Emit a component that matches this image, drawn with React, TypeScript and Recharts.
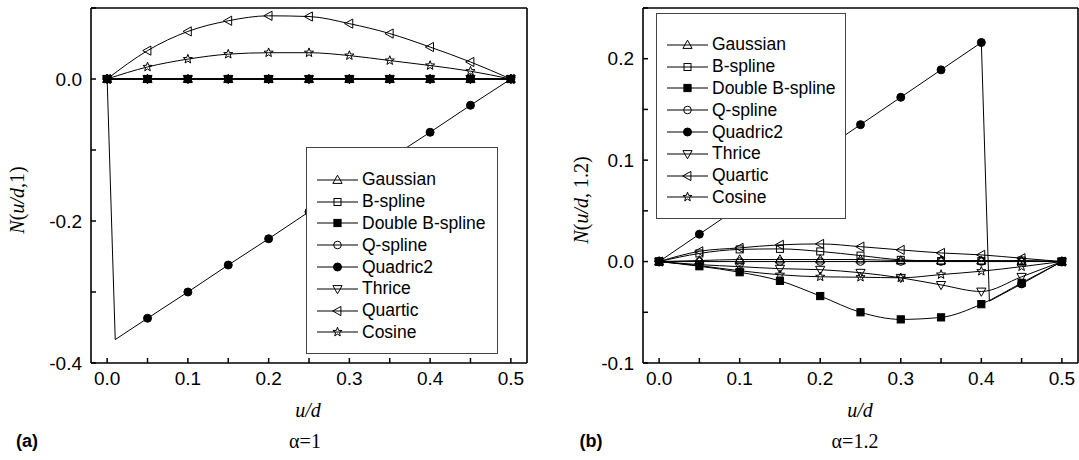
import React from 'react';
import { LineChart, Line, XAxis, YAxis, Legend } from 'recharts';

// u/d sample positions (shared by most series)
const u = [0, 0.05, 0.1, 0.15, 0.2, 0.25, 0.3, 0.35, 0.4, 0.45, 0.5];

// (a) alpha = 1
const gaussianA = [0, 0, 0, 0, 0, 0, 0, 0, 0, 0, 0];
const bsplineA = [0, 0, 0, 0, 0, 0, 0, 0, 0, 0, 0];
const doubleBA = [0, 0, 0, 0, 0, 0, 0, 0, 0, 0, 0];
const qsplineA = [0, 0, 0, 0, 0, 0, 0, 0, 0, 0, 0];
const thriceA = [0, 0, 0, 0, 0, 0, 0, 0, 0, 0, 0];
const quarticA = [0, 0.04, 0.067, 0.082, 0.089, 0.088, 0.078, 0.064, 0.045, 0.024, 0];
const cosineA = [0, 0.017, 0.028, 0.035, 0.037, 0.037, 0.033, 0.026, 0.019, 0.011, 0];
const quadricAU = [0, 0.01, 0.05, 0.1, 0.15, 0.2, 0.25, 0.3, 0.35, 0.4, 0.45, 0.5];
const quadricA = [0, -0.367, -0.337, -0.3, -0.262, -0.225, -0.187, -0.15, -0.112, -0.075, -0.037, 0];
const quadricANoMarker = [0.01];

// (b) alpha = 1.2
const gaussianB = [0, 0.001, 0.002, 0.002, 0.002, 0.002, 0.001, 0.001, 0.001, 0.0005, 0];
const bsplineB = [0, 0.008, 0.012, 0.0125, 0.01, 0.0059, 0.0017, 0.0005, 0.0005, 0.001, 0];
const doubleBB = [0, -0.0046, -0.0105, -0.019, -0.034, -0.05, -0.057, -0.055, -0.042, -0.021, 0];
const qsplineB = [0, 0, 0, 0, 0, 0, 0, 0, 0, 0, 0];
const thriceB = [0, -0.003, -0.005, -0.007, -0.008, -0.011, -0.016, -0.023, -0.0295, -0.015, 0];
const quarticB = [0, 0.0101, 0.0135, 0.0165, 0.0174, 0.0147, 0.0115, 0.0085, 0.0066, 0.0033, 0];
const cosineB = [0, -0.004, -0.009, -0.013, -0.015, -0.0154, -0.016, -0.0128, -0.0095, -0.005, 0];
const quadricBU = [0, 0.05, 0.1, 0.15, 0.2, 0.25, 0.3, 0.35, 0.4, 0.41, 0.45, 0.5];
const quadricB = [0, 0.027, 0.054, 0.081, 0.108, 0.135, 0.162, 0.189, 0.216, -0.039, -0.022, 0];
const quadricBNoMarker = [0.41];

// axis ticks and labels
const xTicks = [0, 0.05, 0.1, 0.15, 0.2, 0.25, 0.3, 0.35, 0.4, 0.45, 0.5];
const xLabels = ['0.0', '', '0.1', '', '0.2', '', '0.3', '', '0.4', '', '0.5'];
const yTicksA = [-0.4, -0.3, -0.2, -0.1, 0, 0.1];
const yLabelsA = ['-0.4', '', '-0.2', '', '0.0', ''];
const yTicksB = [-0.1, -0.05, 0, 0.05, 0.1, 0.15, 0.2, 0.25];
const yLabelsB = ['-0.1', '', '0.0', '', '0.1', '', '0.2', ''];

const names = ['Gaussian', 'B-spline', 'Double B-spline', 'Q-spline', 'Quadric2', 'Thrice', 'Quartic', 'Cosine'];
const shapes = ['up', 'square', 'fsquare', 'circle', 'fcircle', 'down', 'left', 'star'];

const SANS = '"Liberation Sans", Arial, Helvetica, sans-serif';
const SERIF = '"Liberation Serif", "Times New Roman", serif';

const pts = (xs: number[], ys: number[]) => xs.map((x, i) => ({ u: x, v: ys[i] }));

function starPoints(x: number, y: number, ro: number, ri: number) {
  const p: string[] = [];
  for (let i = 0; i < 10; i++) {
    const r = i % 2 === 0 ? ro : ri;
    const a = -Math.PI / 2 + (i * Math.PI) / 5;
    p.push(`${x + r * Math.cos(a)},${y + r * Math.sin(a)}`);
  }
  return p.join(' ');
}

function Marker({ shape, x, y }: { shape: string; x: number; y: number }) {
  const st = { stroke: '#000', strokeWidth: 1 };
  switch (shape) {
    case 'up':
      return <polygon points={`${x},${y - 4.8} ${x - 4.6},${y + 3.4} ${x + 4.6},${y + 3.4}`} fill="none" {...st} />;
    case 'down':
      return <polygon points={`${x},${y + 4.8} ${x - 4.6},${y - 3.4} ${x + 4.6},${y - 3.4}`} fill="none" {...st} />;
    case 'left':
      return <polygon points={`${x - 4.8},${y} ${x + 3.4},${y - 4.6} ${x + 3.4},${y + 4.6}`} fill="none" {...st} />;
    case 'square':
      return <rect x={x - 3.5} y={y - 3.5} width={7} height={7} fill="none" {...st} />;
    case 'fsquare':
      return <rect x={x - 3.6} y={y - 3.6} width={7.2} height={7.2} fill="#000" {...st} />;
    case 'circle':
      return <circle cx={x} cy={y} r={3.8} fill="none" {...st} />;
    case 'fcircle':
      return <circle cx={x} cy={y} r={4} fill="#000" {...st} />;
    default:
      return <polygon points={starPoints(x, y, 4.8, 2)} fill="none" {...st} />;
  }
}

const makeDot = (shape: string, skip: number[] = []) => (props: any) => {
  const { cx, cy, payload, index } = props;
  if (cx == null || cy == null || skip.includes(payload.u)) return <g key={`d${index}`} />;
  return (
    <g key={`d${index}`}>
      <Marker shape={shape} x={cx} y={cy} />
    </g>
  );
};

function LegendBox({ padTop }: { padTop: number }) {
  return (
    <div
      style={{
        border: '1px solid #444',
        background: '#fff',
        boxSizing: 'border-box',
        width: '100%',
        height: '100%',
        paddingTop: padTop,
        paddingLeft: 9,
      }}
    >
      {names.map((n, i) => (
        <div key={n} style={{ display: 'flex', alignItems: 'center', height: 21.8 }}>
          <svg width={46} height={20} style={{ flex: 'none' }}>
            <line x1={1} y1={10} x2={42} y2={10} stroke="#000" strokeWidth={1} />
            <Marker shape={shapes[i]} x={21.5} y={10} />
          </svg>
          <span style={{ fontFamily: SANS, fontSize: 17.5, color: '#000', whiteSpace: 'nowrap' }}>{n}</span>
        </div>
      ))}
    </div>
  );
}

const axisLine = { stroke: '#000', strokeWidth: 1.6 };
const tickLine = { stroke: '#000', strokeWidth: 1.5 };
const tickFont = { fill: '#000', fontSize: 19, fontFamily: SANS };

function Panel({
  width,
  marginLeft,
  marginRight,
  yDomain,
  yTicks,
  yLabels,
  series,
  legendPos,
  legendPadTop,
}: any) {
  return (
    <LineChart
      width={width}
      height={460}
      margin={{ top: 7, right: marginRight, bottom: 96, left: marginLeft }}
    >
      <XAxis
        xAxisId="b"
        dataKey="u"
        type="number"
        domain={[-0.02, 0.52]}
        ticks={xTicks}
        interval={0}
        allowDataOverflow
        height={1}
        tickSize={-5}
        tickMargin={14}
        axisLine={axisLine}
        tickLine={tickLine}
        tick={tickFont}
        tickFormatter={(v: number, i: number) => xLabels[i]}
      />
      <XAxis
        xAxisId="t"
        orientation="top"
        dataKey="u"
        type="number"
        domain={[-0.02, 0.52]}
        ticks={xTicks}
        interval={0}
        allowDataOverflow
        height={1}
        tickSize={-5}
        axisLine={axisLine}
        tickLine={tickLine}
        tick={false}
      />
      <YAxis
        yAxisId="l"
        type="number"
        domain={yDomain}
        ticks={yTicks}
        interval={0}
        allowDataOverflow
        width={1}
        tickSize={-5}
        tickMargin={14}
        axisLine={axisLine}
        tickLine={tickLine}
        tick={tickFont}
        tickFormatter={(v: number, i: number) => yLabels[i]}
      />
      <YAxis
        yAxisId="r"
        orientation="right"
        type="number"
        domain={yDomain}
        ticks={yTicks}
        interval={0}
        allowDataOverflow
        width={1}
        tickSize={-5}
        axisLine={axisLine}
        tickLine={tickLine}
        tick={false}
      />
      {series.map((s: any) => (
        <Line
          key={s.name}
          xAxisId="b"
          yAxisId="l"
          name={s.name}
          data={s.data}
          dataKey="v"
          type={s.curve}
          stroke="#000"
          strokeWidth={1}
          dot={makeDot(s.shape, s.skip)}
          activeDot={false}
          isAnimationActive={false}
        />
      ))}
      <Legend
        layout="vertical"
        align="center"
        verticalAlign="middle"
        wrapperStyle={{ ...legendPos, margin: 0 }}
        content={() => <LegendBox padTop={legendPadTop} />}
      />
    </LineChart>
  );
}

const seriesA = [
  { name: names[0], shape: 'up', data: pts(u, gaussianA), curve: 'monotone' },
  { name: names[1], shape: 'square', data: pts(u, bsplineA), curve: 'monotone' },
  { name: names[2], shape: 'fsquare', data: pts(u, doubleBA), curve: 'monotone' },
  { name: names[3], shape: 'circle', data: pts(u, qsplineA), curve: 'monotone' },
  { name: names[4], shape: 'fcircle', data: pts(quadricAU, quadricA), curve: 'linear', skip: quadricANoMarker },
  { name: names[5], shape: 'down', data: pts(u, thriceA), curve: 'monotone' },
  { name: names[6], shape: 'left', data: pts(u, quarticA), curve: 'monotone' },
  { name: names[7], shape: 'star', data: pts(u, cosineA), curve: 'monotone' },
];

const seriesB = [
  { name: names[0], shape: 'up', data: pts(u, gaussianB), curve: 'monotone' },
  { name: names[1], shape: 'square', data: pts(u, bsplineB), curve: 'monotone' },
  { name: names[2], shape: 'fsquare', data: pts(u, doubleBB), curve: 'monotone' },
  { name: names[3], shape: 'circle', data: pts(u, qsplineB), curve: 'monotone' },
  { name: names[4], shape: 'fcircle', data: pts(quadricBU, quadricB), curve: 'linear', skip: quadricBNoMarker },
  { name: names[5], shape: 'down', data: pts(u, thriceB), curve: 'monotone' },
  { name: names[6], shape: 'left', data: pts(u, quarticB), curve: 'monotone' },
  { name: names[7], shape: 'star', data: pts(u, cosineB), curve: 'monotone' },
];

const abs = (left: number, top: number, extra: React.CSSProperties = {}): React.CSSProperties => ({
  position: 'absolute',
  left,
  top,
  transform: 'translate(-50%, -50%)',
  whiteSpace: 'nowrap',
  color: '#000',
  ...extra,
});

export default function App() {
  return (
    <div style={{ position: 'absolute', left: 0, top: 0, width: 1079, height: 460, background: '#fff', overflow: 'hidden' }}>
      <div style={{ position: 'absolute', left: 0, top: 0 }}>
        <Panel
          width={540}
          marginLeft={90}
          marginRight={12}
          yDomain={[-0.4, 0.1]}
          yTicks={yTicksA}
          yLabels={yLabelsA}
          series={seriesA}
          legendPos={{ left: 306, top: 147, width: 192, height: 207 }}
          legendPadTop={21}
        />
      </div>
      <div style={{ position: 'absolute', left: 540, top: 0 }}>
        <Panel
          width={539}
          marginLeft={102}
          marginRight={0}
          yDomain={[-0.1, 0.25]}
          yTicks={yTicksB}
          yLabels={yLabelsB}
          series={seriesB}
          legendPos={{ left: 116, top: 13, width: 190, height: 206 }}
          legendPadTop={20}
        />
      </div>

      <div style={abs(17, 200, { transform: 'translate(-50%, -50%) rotate(-90deg)', fontFamily: SERIF, fontSize: 20 })}>
        <i>N</i>(<i>u/d</i>,1)
      </div>
      <div style={abs(581, 200, { transform: 'translate(-50%, -50%) rotate(-90deg)', fontFamily: SERIF, fontSize: 20 })}>
        <i>N</i>(<i>u/d</i>, 1.2)
      </div>

      <div style={abs(308, 410, { fontFamily: SERIF, fontSize: 20 })}>
        <i>u/d</i>
      </div>
      <div style={abs(860, 410, { fontFamily: SERIF, fontSize: 20 })}>
        <i>u/d</i>
      </div>

      <div style={abs(305, 441, { fontFamily: SERIF, fontSize: 20 })}>α=1</div>
      <div style={abs(855, 441, { fontFamily: SERIF, fontSize: 20 })}>α=1.2</div>

      <div style={abs(27, 441, { fontFamily: SANS, fontSize: 18, fontWeight: 'bold' })}>(a)</div>
      <div style={abs(591, 441, { fontFamily: SANS, fontSize: 18, fontWeight: 'bold' })}>(b)</div>
    </div>
  );
}
